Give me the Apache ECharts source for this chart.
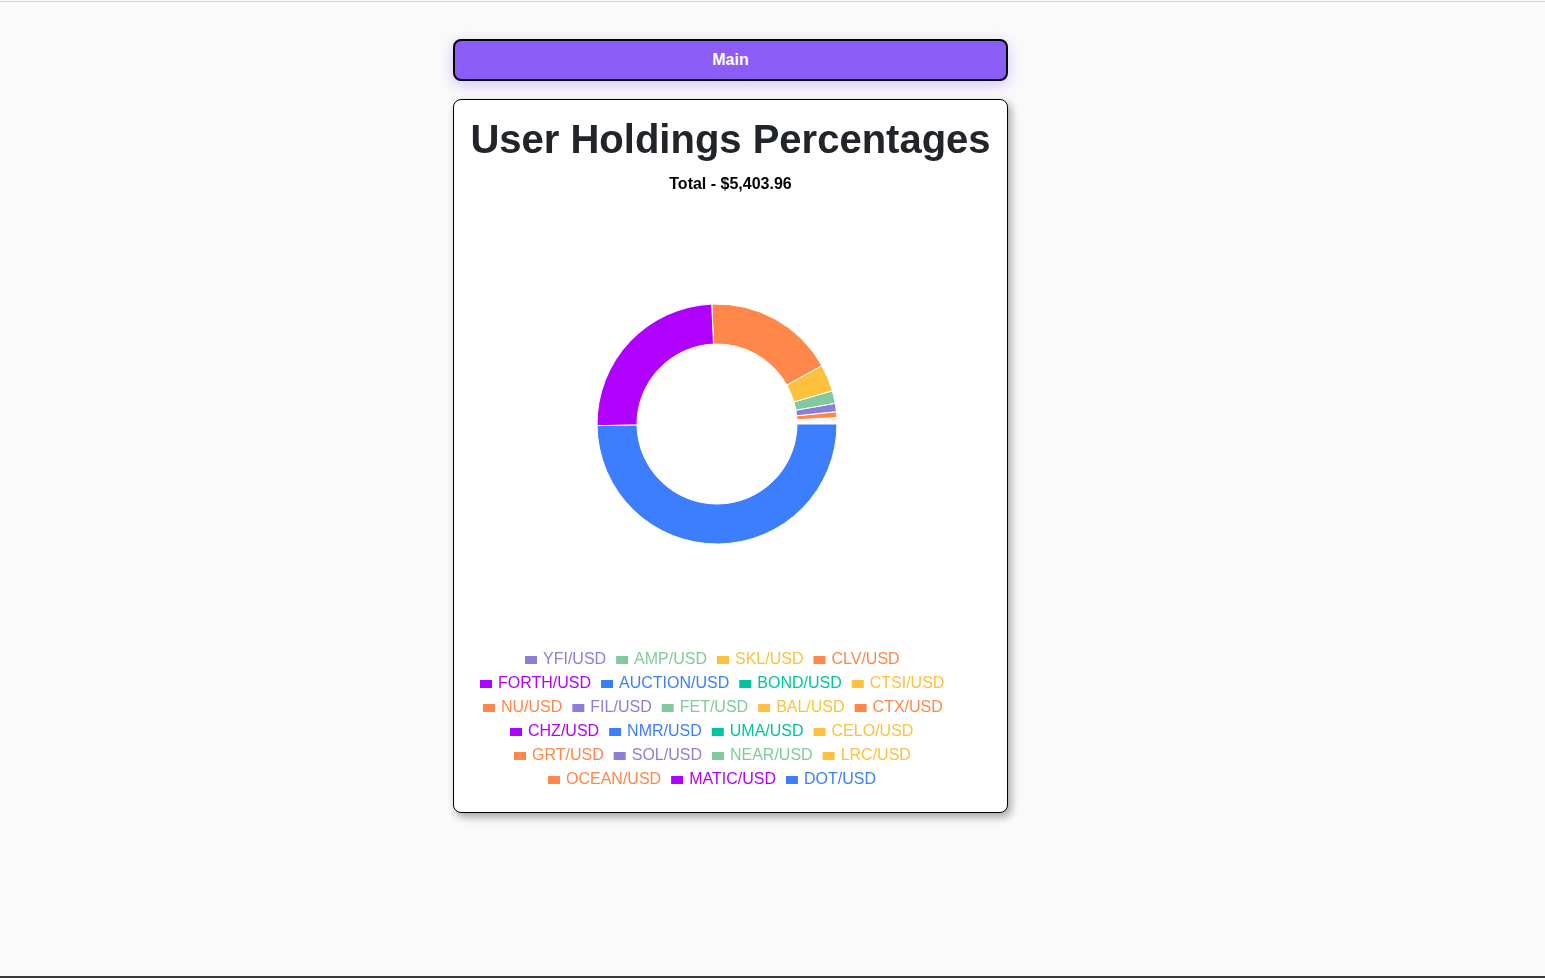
<!DOCTYPE html>
<html>
<head>
<meta charset="utf-8">
<script src="https://cdn.jsdelivr.net/npm/echarts@6/dist/echarts.min.js"></script>
<style>
  html, body { margin: 0; padding: 0; width: 1545px; height: 978px; overflow: hidden; background: #fafafa; font-family: "Liberation Sans", Arial, sans-serif; }
  #topline { position: absolute; left: 0; top: 0; width: 1545px; height: 1px; border-bottom: 1px solid #d6d6d6; }
  #botline { position: absolute; left: 0; top: 976px; width: 1545px; height: 2px; background: #3a3a3a; }
  #btn { position: absolute; left: 453px; top: 39px; width: 555px; height: 42px; box-sizing: border-box; border: 2px solid #000; border-radius: 8px; background: #8b5cf6; color: #fff; font-weight: bold; font-size: 16px; text-align: center; line-height: 38px; box-shadow: 0 4px 14px rgba(139,92,246,0.35); }
  #card { position: absolute; left: 453px; top: 99px; width: 555px; height: 714px; box-sizing: border-box; border: 1.5px solid #000; border-radius: 8px; background: #fff; box-shadow: 3px 4px 8px rgba(0,0,0,0.35); }
  #chart { position: absolute; left: 453px; top: 99px; width: 555px; height: 714px; }
</style>
</head>
<body>
<div id="topline"></div>
<div id="btn">Main</div>
<div id="card"></div>
<div id="chart"></div>
<div id="botline"></div>
<script>
const categories = ['YFI/USD','AMP/USD','SKL/USD','CLV/USD','FORTH/USD','AUCTION/USD','BOND/USD','CTSI/USD','NU/USD','FIL/USD','FET/USD','BAL/USD','CTX/USD','CHZ/USD','NMR/USD','UMA/USD','CELO/USD','GRT/USD','SOL/USD','NEAR/USD','LRC/USD','OCEAN/USD','MATIC/USD','DOT/USD'];
const holdings = [0.3,0.4,0.5,0.7,0.9,1.1,1.3,1.6,2.0,2.3,2.7,3.2,3.8,4.6,5.5,6.5,8.5,42.7,60.5,91.9,196.7,951,1325,2690.26];
const palette = ['#8b80d8','#82ca9d','#fdc13d','#ff8749','#b000ff','#3c7efe','#00c49f','#fdc13d','#ff8749'];
const legendRows = [
  ['YFI/USD','AMP/USD','SKL/USD','CLV/USD'],
  ['FORTH/USD','AUCTION/USD','BOND/USD','CTSI/USD'],
  ['NU/USD','FIL/USD','FET/USD','BAL/USD','CTX/USD'],
  ['CHZ/USD','NMR/USD','UMA/USD','CELO/USD'],
  ['GRT/USD','SOL/USD','NEAR/USD','LRC/USD'],
  ['OCEAN/USD','MATIC/USD','DOT/USD']
];
const titleText = 'User Holdings Percentages';

const total = holdings.reduce((a, b) => a + b, 0);
const totalText = 'Total - $' + total.toLocaleString('en-US', {minimumFractionDigits: 2, maximumFractionDigits: 2});
const colorOf = name => palette[categories.indexOf(name) % palette.length];

const FONT = '"Liberation Sans", Arial, sans-serif';
const ctx = document.createElement('canvas').getContext('2d');
ctx.font = '16px ' + FONT;
const ICON_W = 14, ICON_H = 10, ICON_GAP = 5, ITEM_GAP = 8;
const legendCenterX = 256;
const legendTop0 = 553;
const legendRowStep = 24;

const legends = legendRows.map((row, i) => {
  let w = 0;
  row.forEach((n, j) => { w += ICON_W + ICON_GAP + ctx.measureText(n).width + (j ? ITEM_GAP : 0); });
  return {
    orient: 'horizontal',
    left: Math.round(legendCenterX - w / 2),
    top: legendTop0 + i * legendRowStep,
    padding: 0,
    itemWidth: ICON_W,
    itemHeight: ICON_H,
    itemGap: ITEM_GAP,
    icon: 'rect',
    selectedMode: false,
    data: row.map(n => ({ name: n, itemStyle: { color: colorOf(n) }, textStyle: { color: colorOf(n) } })),
    textStyle: { fontSize: 16, fontFamily: FONT }
  };
});

const chart = echarts.init(document.getElementById('chart'), null, { renderer: 'canvas' });
chart.setOption({
  animation: false,
  title: {
    text: titleText,
    subtext: totalText,
    left: 'center',
    top: 23,
    padding: 0,
    itemGap: 15,
    textStyle: { fontSize: 40, fontWeight: 'bold', color: '#212529', fontFamily: FONT },
    subtextStyle: { fontSize: 16, fontWeight: 'bold', color: '#000', fontFamily: FONT }
  },
  legend: legends,
  series: [{
    type: 'pie',
    center: [264, 325],
    radius: [80, 120],
    startAngle: 0,
    clockwise: false,
    avoidLabelOverlap: false,
    label: { show: false },
    labelLine: { show: false },
    emphasis: { disabled: true },
    itemStyle: { borderColor: '#fff', borderWidth: 1 },
    data: categories.map((n, i) => ({ name: n, value: holdings[i], itemStyle: { color: colorOf(n) } }))
  }]
});
</script>
</body>
</html>
